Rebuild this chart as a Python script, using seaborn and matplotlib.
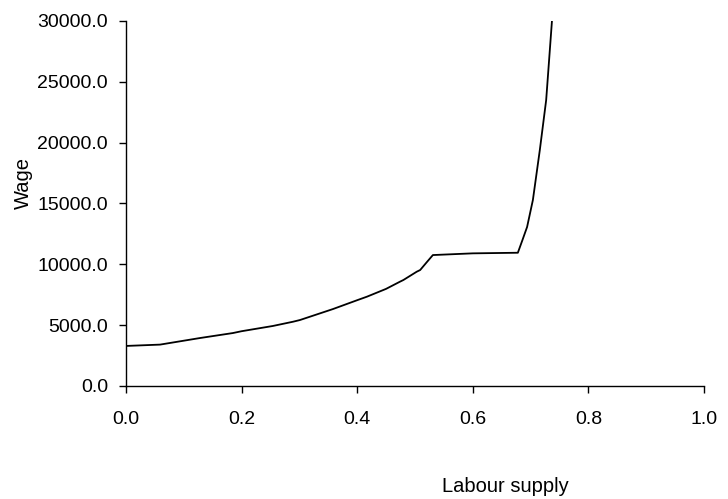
import matplotlib
matplotlib.use("Agg")
import matplotlib.pyplot as plt
import seaborn as sns
import pandas as pd
from matplotlib.ticker import FormatStrFormatter

# Labour supply curve: wage needed for each level of labour supplied
labour = [0.0, 0.0, 0.059, 0.128, 0.185, 0.2, 0.254, 0.289, 0.301, 0.358,
          0.40, 0.417, 0.45, 0.474, 0.48, 0.503, 0.509, 0.52, 0.531, 0.60,
          0.678, 0.686, 0.694, 0.704, 0.716, 0.727, 0.737]
wage = [1900, 3290, 3400, 3940, 4350, 4500, 4930, 5280, 5420, 6320,
        7050, 7340, 7980, 8570, 8710, 9390, 9530, 10150, 10760, 10900,
        10950, 12000, 13070, 15280, 19390, 23500, 30000]

x_ticks = [0.0, 0.2, 0.4, 0.6, 0.8, 1.0]
y_ticks = [0, 5000, 10000, 15000, 20000, 25000, 30000]

sns.set_theme(style="ticks")
plt.rcParams["font.family"] = ["Liberation Sans", "DejaVu Sans"]

df = pd.DataFrame({"Labour supply": labour, "Wage": wage})

fig = plt.figure(figsize=(7.28, 4.99), dpi=100)
ax = fig.add_axes([0.173, 0.2265, 0.794, 0.7315])

sns.lineplot(data=df, x="Labour supply", y="Wage", sort=False,
             estimator=None, color="black", linewidth=1.3, ax=ax)

ax.set_xlim(0, 1.0)
ax.set_ylim(0, 30000)
ax.set_xticks(x_ticks)
ax.set_yticks(y_ticks)
ax.xaxis.set_major_formatter(FormatStrFormatter("%.1f"))
ax.yaxis.set_major_formatter(FormatStrFormatter("%.1f"))

sns.despine(ax=ax)
for side in ("left", "bottom"):
    ax.spines[side].set_color("black")
    ax.spines[side].set_linewidth(1.0)

ax.tick_params(axis="x", direction="out", length=5, width=1, color="black",
               labelsize=14, pad=13, labelcolor="black")
ax.tick_params(axis="y", direction="out", length=5, width=1, color="black",
               labelsize=14, pad=8, labelcolor="black")

ax.set_xlabel("Labour supply", fontsize=14.5, color="black")
ax.set_ylabel("Wage", fontsize=14.5, color="black")
ax.xaxis.set_label_coords(0.656, -0.249)
ax.yaxis.set_label_coords(-0.161, 0.556)

fig.savefig("out.png", dpi=100, facecolor="white")
